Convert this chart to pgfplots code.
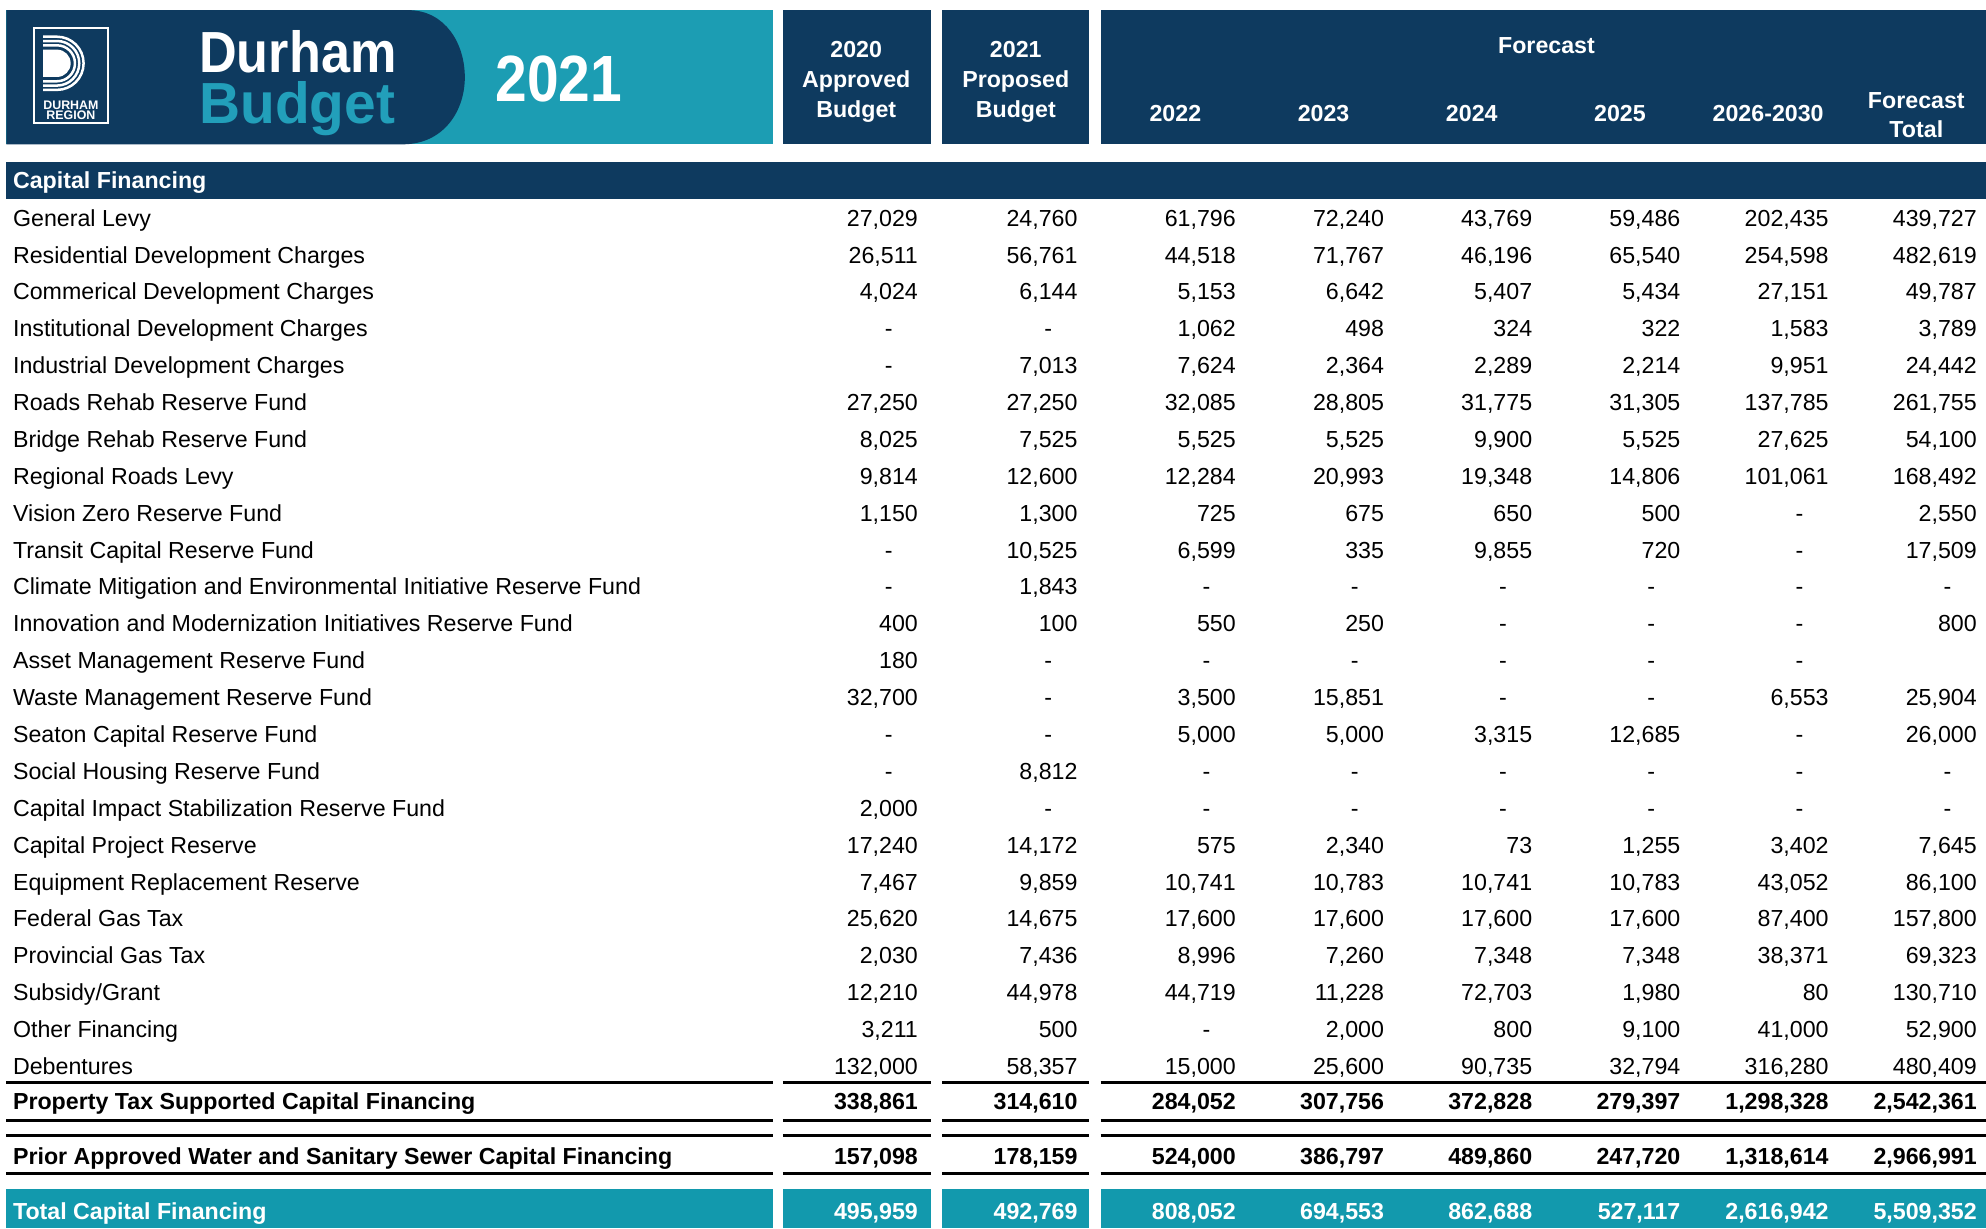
\documentclass[border=0pt]{standalone}
\usepackage{graphicx}
\usepackage{pgfplots}
\pgfplotsset{compat=1.18}
\usepackage{pgfplotstable}
\usepackage{fontspec}
\setmainfont{Liberation Sans}
\definecolor{navy}{HTML}{0E3A5F}
\definecolor{tealbar}{HTML}{1299AD}
\definecolor{tealban}{HTML}{1C9DB3}
\definecolor{tealtxt}{HTML}{229FBA}
\newcommand\rowfont{\fontsize{11.6}{14}\selectfont}
\newcommand\hdrfont{\fontsize{11.6}{14.9}\selectfont\bfseries}

\pgfplotstableread[col sep=semicolon]{
r;name;a;b;c;d;e;f;g;h
1;General Levy;27029;24760;61796;72240;43769;59486;202435;439727
2;Residential Development Charges;26511;56761;44518;71767;46196;65540;254598;482619
3;Commerical Development Charges;4024;6144;5153;6642;5407;5434;27151;49787
4;Institutional Development Charges;0;0;1062;498;324;322;1583;3789
5;Industrial Development Charges;0;7013;7624;2364;2289;2214;9951;24442
6;Roads Rehab Reserve Fund;27250;27250;32085;28805;31775;31305;137785;261755
7;Bridge Rehab Reserve Fund;8025;7525;5525;5525;9900;5525;27625;54100
8;Regional Roads Levy;9814;12600;12284;20993;19348;14806;101061;168492
9;Vision Zero Reserve Fund;1150;1300;725;675;650;500;0;2550
10;Transit Capital Reserve Fund;0;10525;6599;335;9855;720;0;17509
11;Climate Mitigation and Environmental Initiative Reserve Fund;0;1843;0;0;0;0;0;0
12;Innovation and Modernization Initiatives Reserve Fund;400;100;550;250;0;0;0;800
13;Asset Management Reserve Fund;180;0;0;0;0;0;0;nan
14;Waste Management Reserve Fund;32700;0;3500;15851;0;0;6553;25904
15;Seaton Capital Reserve Fund;0;0;5000;5000;3315;12685;0;26000
16;Social Housing Reserve Fund;0;8812;0;0;0;0;0;0
17;Capital Impact Stabilization Reserve Fund;2000;0;0;0;0;0;0;0
18;Capital Project Reserve;17240;14172;575;2340;73;1255;3402;7645
19;Equipment Replacement Reserve;7467;9859;10741;10783;10741;10783;43052;86100
20;Federal Gas Tax;25620;14675;17600;17600;17600;17600;87400;157800
21;Provincial Gas Tax;2030;7436;8996;7260;7348;7348;38371;69323
22;Subsidy/Grant;12210;44978;44719;11228;72703;1980;80;130710
23;Other Financing;3211;500;0;2000;800;9100;41000;52900
24;Debentures;132000;58357;15000;25600;90735;32794;316280;480409
}\main
\pgfplotstablecreatecol[expr={173+(\thisrow{r}-1)*29.13}]{y}\main

\pgfplotstableread[col sep=semicolon]{
y;name;a;b;c;d;e;f;g;h
871;Property Tax Supported Capital Financing;338861;314610;284052;307756;372828;279397;1298328;2542361
914;Prior Approved Water and Sanitary Sewer Capital Financing;157098;178159;524000;386797;489860;247720;1318614;2966991
}\subtot

\pgfplotstableread[col sep=semicolon]{
y;name;a;b;c;d;e;f;g;h
958;Total Capital Financing;495959;492769;808052;694553;862688;527117;2616942;5509352
}\grand

% #1 table, #2 column, #3 right edge, #4 extra node style
\newcommand\valcol[4]{%
  \addplot[draw=none, point meta=explicit,
    nodes near coords={\pgfmathprintnumber{\pgfplotspointmeta}},
    nodes near coords style={anchor=east, inner sep=0pt, text height=0.716em, text depth=0pt, #4}]
    table[x expr={\thisrow{#2}==0 ? nan : #3+(\thisrow{#2}-\thisrow{#2})}, y=y, meta=#2]{#1};
  \addplot[draw=none,
    nodes near coords={-},
    nodes near coords style={anchor=east, inner sep=0pt, text height=0.716em, text depth=0pt, #4}]
    table[x expr={\thisrow{#2}==0 ? #3-20 : nan}, y=y]{#1};
}
\newcommand\allcols[2]{%
  \valcol{#1}{a}{725}{#2}\valcol{#1}{b}{851}{#2}
  \valcol{#1}{c}{976}{#2}\valcol{#1}{d}{1093}{#2}
  \valcol{#1}{e}{1210}{#2}\valcol{#1}{f}{1327}{#2}
  \valcol{#1}{g}{1444}{#2}\valcol{#1}{h}{1561}{#2}
}

\begin{document}
\begin{tikzpicture}
\begin{scope}[shift={(0pt,614pt)}, x=0.63329pt, y=-0.63299pt]
  % banner
  \fill[tealban] (5,8) rectangle (610,114);
  \fill[navy] (5,8) -- (322,8) .. controls (352,8) and (367,35) .. (367,61)
     .. controls (367,88) and (350,114) .. (318,114) -- (5,114) -- cycle;
  % logo
  \draw[white, line width=0.9pt] (27,22) rectangle (85,97);
  \foreach \r in {21,17.6,14.2}{
    \draw[white, line width=1.25pt] (34,50-\r) -- (45,50-\r) arc[start angle=-90, end angle=90, radius=\r] -- (34,50+\r);
  }
  \fill[white] (34,39.2) -- (45,39.2) arc[start angle=-90, end angle=90, radius=10.8] -- (34,60.8) -- cycle;
  \node[white, inner sep=0pt, font=\fontsize{6.2}{6.2}\selectfont\bfseries] at (56,83) {DURHAM};
  \node[white, inner sep=0pt, font=\fontsize{6.2}{6.2}\selectfont\bfseries] at (56,91) {REGION};
  \node[white, anchor=base west, inner sep=0pt] at (157,57) {\scalebox{0.9}[1]{\fontsize{29}{29}\selectfont\bfseries Durham}};
  \node[tealtxt, anchor=base west, inner sep=0pt] at (157,97.5) {\scalebox{0.98}[1]{\fontsize{29}{29}\selectfont\bfseries Budget}};
  \node[white, anchor=base west, inner sep=0pt] at (391,80) {\scalebox{0.87}[1]{\fontsize{32.7}{33}\selectfont\bfseries 2021}};
  % header boxes
  \fill[navy] (618,8) rectangle (735,114);
  \fill[navy] (744,8) rectangle (860,114);
  \fill[navy] (869,8) rectangle (1568,114);
  \node[white, align=center, font=\hdrfont] at (676,64.5) {2020\\Approved\\Budget};
  \node[white, align=center, font=\hdrfont] at (802,64.5) {2021\\Proposed\\Budget};
  \node[white, font=\hdrfont] at (1221,36) {Forecast};
  \foreach \x/\t in {928/2022,1045/2023,1162/2024,1279/2025,1396/2026-2030}{
    \node[white, font=\hdrfont] at (\x,90) {\t};
  }
  \node[white, align=center, font=\hdrfont] at (1513,91) {Forecast\\Total};
  % section bar
  \fill[navy] (5,128) rectangle (1568,157);
  \node[white, anchor=west, inner sep=0pt, font=\hdrfont, text height=0.716em, text depth=0pt] at (10,143.5) {Capital Financing};
  % rules
  \foreach \yy in {855,885,897,927}{
    \foreach \xa/\xb in {5/610,618/735,744/860,869/1568}{
      \draw[black, line width=1.7pt] (\xa,\yy) -- (\xb,\yy);
    }
  }
  % total bar
  \foreach \xa/\xb in {5/610,618/735,744/860,869/1568}{
    \fill[tealbar] (\xa,939) rectangle (\xb,970);
  }
\end{scope}
\begin{axis}[at={(0pt,0pt)}, anchor=south west, scale only axis,
  width=993pt, height=614pt, xmin=0, xmax=1568, ymin=0, ymax=970,
  y dir=reverse, hide axis, clip=false,
  /pgf/number format/fixed, /pgf/number format/precision=0,
  /pgf/number format/1000 sep={,}, /pgf/number format/assume math mode=true,
  every node near coord/.append style={font=\rowfont}]
  % row labels
  \addplot[draw=none, point meta=explicit symbolic, nodes near coords={\pgfplotspointmeta},
    nodes near coords style={anchor=west, inner sep=0pt, text height=0.716em, text depth=0pt}]
    table[x expr=10, y=y, meta=name]{\main};
  \addplot[draw=none, point meta=explicit symbolic, nodes near coords={\pgfplotspointmeta},
    nodes near coords style={anchor=west, inner sep=0pt, text height=0.716em, text depth=0pt, font=\rowfont\bfseries}]
    table[x expr=10, y=y, meta=name]{\subtot};
  \addplot[draw=none, point meta=explicit symbolic, nodes near coords={\pgfplotspointmeta},
    nodes near coords style={anchor=west, inner sep=0pt, text height=0.716em, text depth=0pt, font=\rowfont\bfseries, text=white}]
    table[x expr=10, y=y, meta=name]{\grand};
  \allcols{\main}{}
  \allcols{\subtot}{font=\rowfont\bfseries}
  \allcols{\grand}{font=\rowfont\bfseries, text=white}
\end{axis}
\pgfresetboundingbox
\path (0pt,0pt) rectangle (993pt,614pt);
\end{tikzpicture}
\end{document}
